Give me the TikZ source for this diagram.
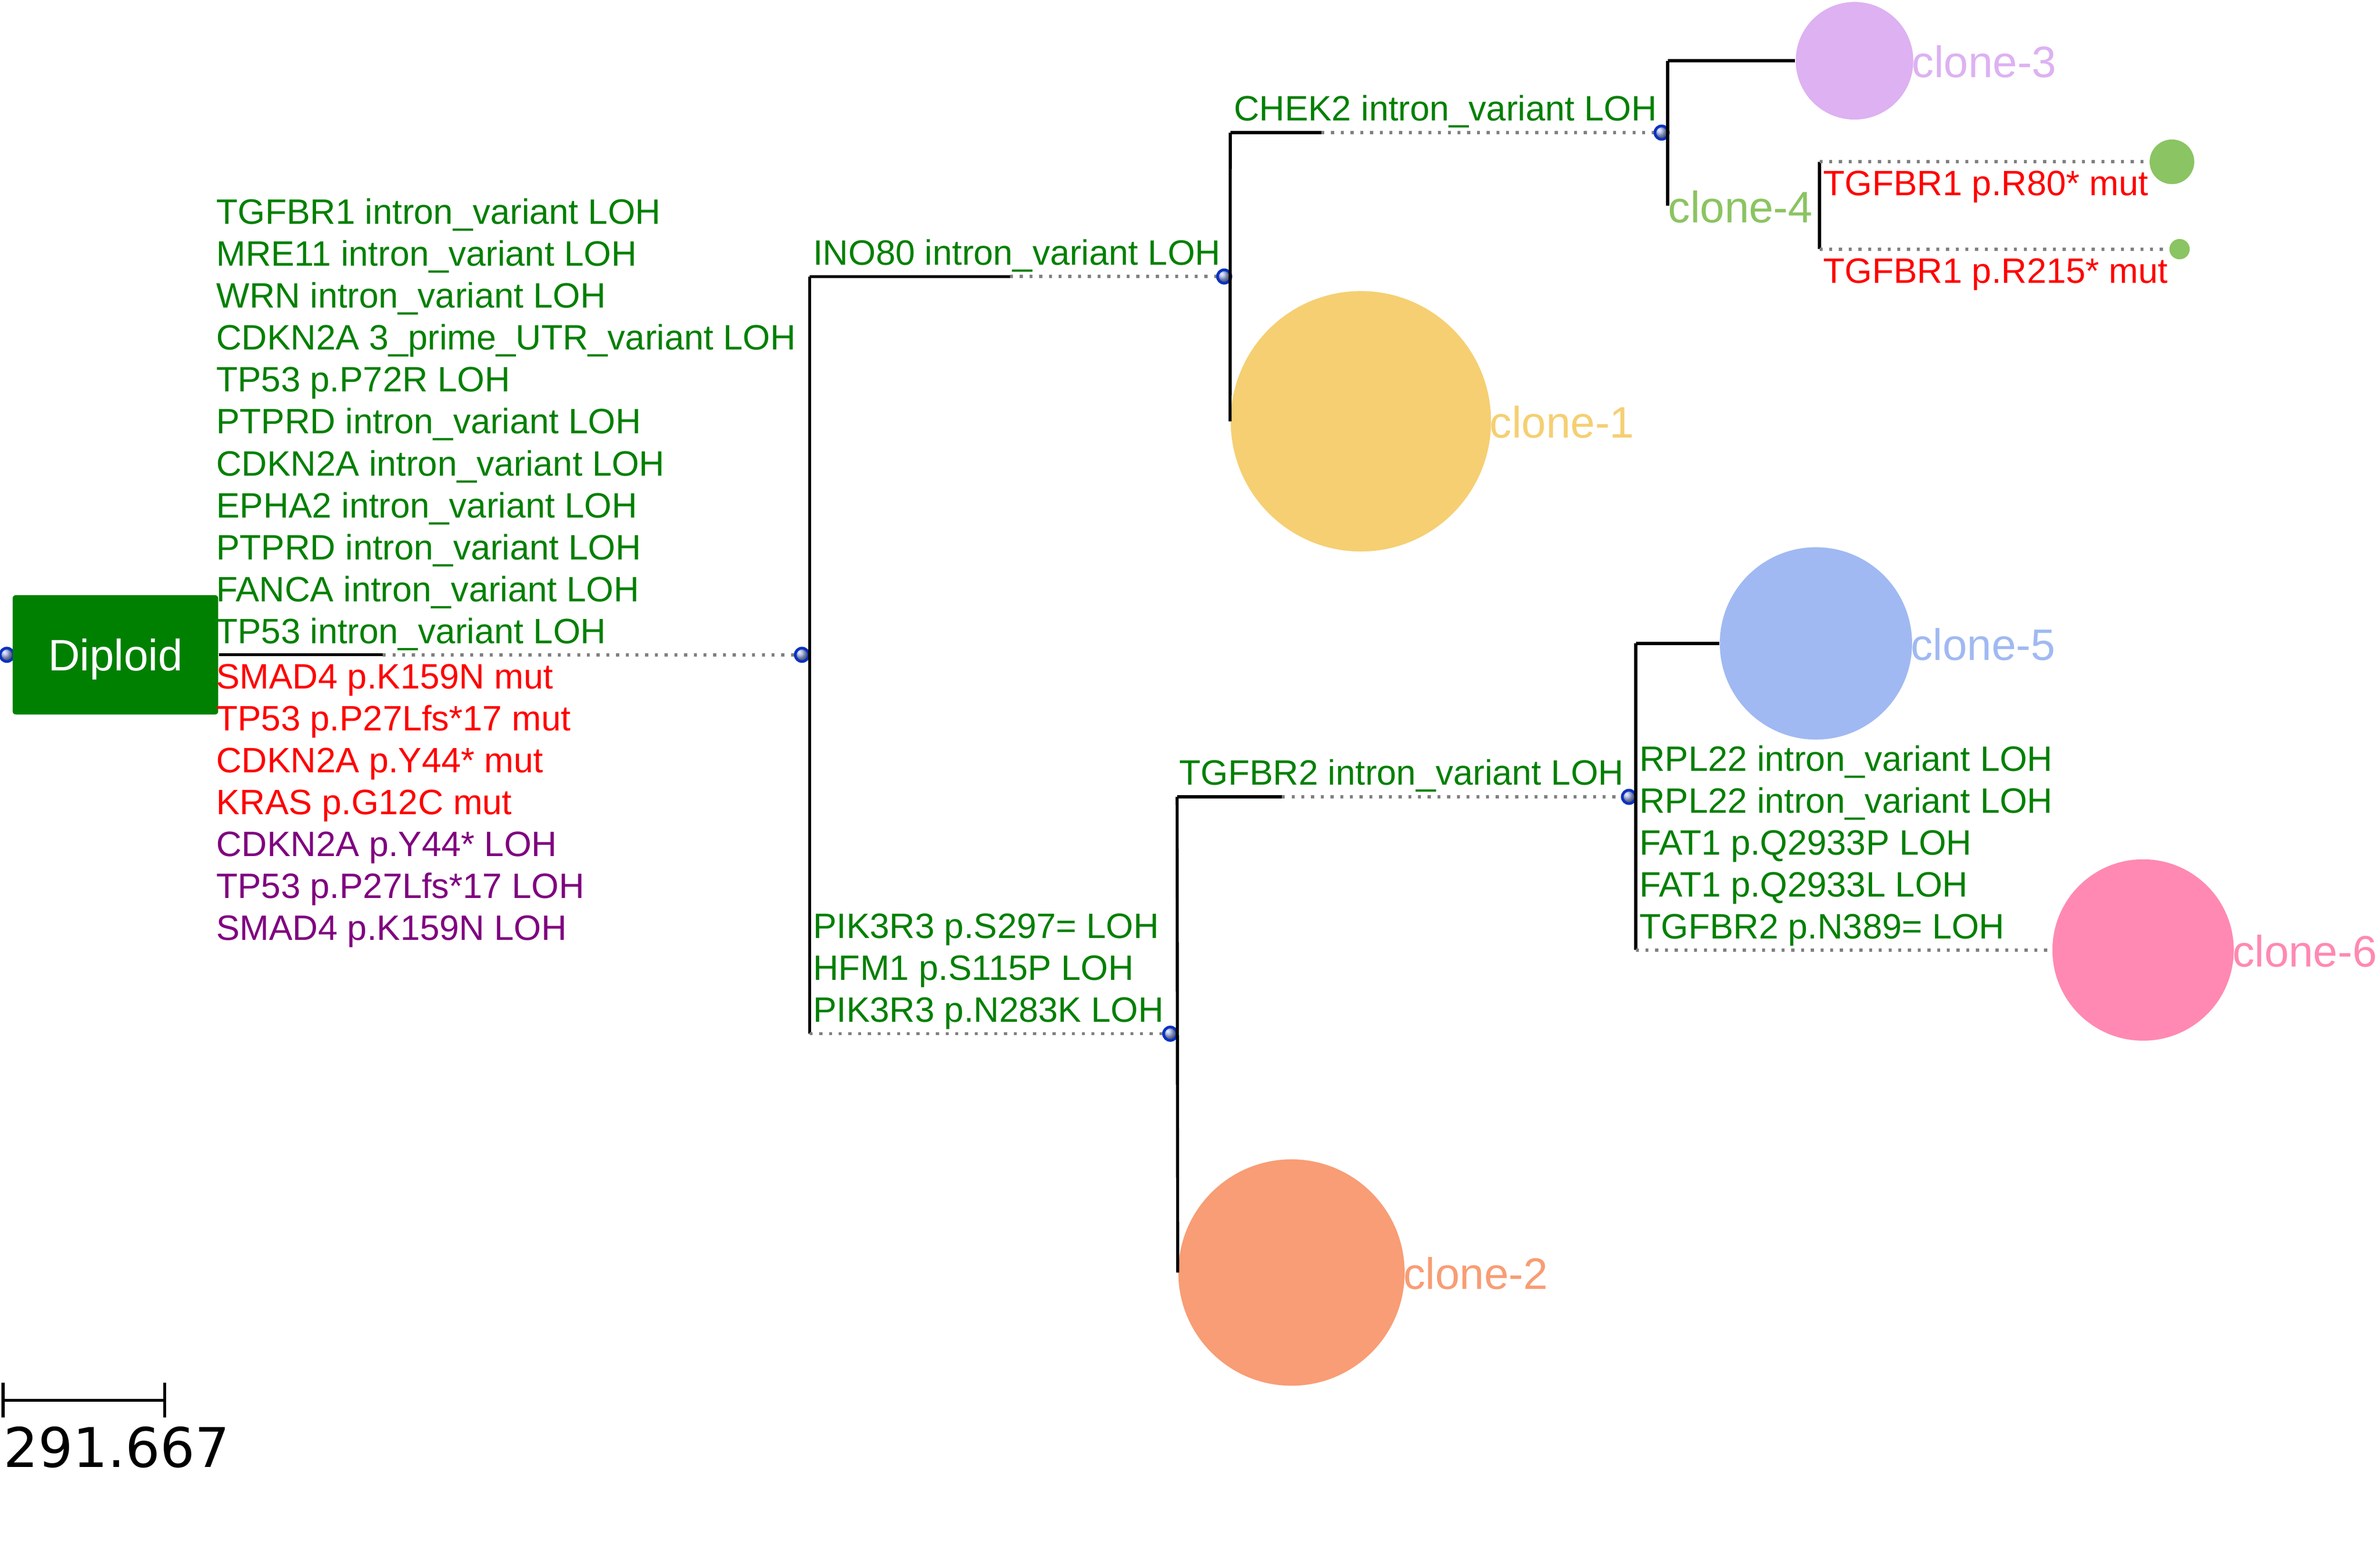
\documentclass[tikz,border=0pt]{standalone}
\usepackage{fontspec}
\setmainfont{Liberation Sans}
\newfontfamily\barfont{DejaVu Sans}
\definecolor{lohgreen}{HTML}{008000}
\definecolor{mutred}{HTML}{FF0000}
\definecolor{lohpurple}{HTML}{800080}
\definecolor{dotgrey}{HTML}{808080}
\definecolor{jointblue}{HTML}{0A32C0}
\definecolor{cloneone}{HTML}{F5CF72}
\definecolor{clonetwo}{HTML}{F89D75}
\definecolor{clonethree}{HTML}{DDB1F2}
\definecolor{clonefour}{HTML}{8BC462}
\definecolor{clonefive}{HTML}{A0B9F2}
\definecolor{clonesix}{HTML}{FF89B2}
\begin{document}
\begin{tikzpicture}[x=0.5pt, y=-0.5pt,
	branch/.style={line width=1pt},
	dotline/.style={line width=1.05pt, draw=dotgrey, dash pattern=on 1pt off 2.2pt},
	joint/.style={circle, inner sep=0pt, minimum size=4.4pt, draw=jointblue, line width=0.9pt, shading=ball, ball color=jointblue!40!white},
	clone/.style={circle, inner sep=0pt, fill=#1},
	clab/.style={inner sep=0pt, anchor=base west, font=\fontsize{14.5}{17}\selectfont},
	lab/.style={inner sep=0pt, anchor=base west, font=\fontsize{11.6}{13.8}\selectfont, text=lohgreen}]
	\useasboundingbox (0,0) rectangle (1567,1017.3);
	% junction dots
	\node[joint] (j0) at (4.5,431) {};
	\node[joint] (j1) at (528,431) {};
	\node[joint] (j2) at (806,182) {};
	\node[joint] (j3) at (1094,87.3) {};
	\node[joint] (j4) at (770.5,680.4) {};
	\node[joint] (j5) at (1072.5,524.5) {};
	\node[fill=lohgreen, text=white, rounded corners=1pt, minimum width=67.65pt, minimum height=39.25pt, text depth=0pt, font=\fontsize{14.5}{17}\selectfont] (diploid) at (76,431) {Diploid};
	% clones
	\node[clone=cloneone, minimum size=171.4pt*0.5] (c1) at (896,277.3) {};
	\node[clone=clonetwo, minimum size=149pt*0.5] (c2) at (850.3,837.6) {};
	\node[clone=clonethree, minimum size=77.4pt*0.5] (c3) at (1221,40) {};
	\node[clone=clonefour, minimum size=29.4pt*0.5] (c4a) at (1430,106.5) {};
	\node[clone=clonefour, minimum size=13.4pt*0.5] (c4b) at (1435,164) {};
	\node[clone=clonefive, minimum size=126.6pt*0.5] (c5) at (1195.6,423.5) {};
	\node[clone=clonesix, minimum size=119.4pt*0.5] (c6) at (1411,625.3) {};
	\coordinate (c4) at (1098,135.5);
	% branch corners
	\coordinate (rs) at (252,431);
	\coordinate (v1t) at (533,182);
	\coordinate (v1b) at (533,680.4);
	\coordinate (s2) at (665,182);
	\coordinate (v2t) at (810,87.3);
	\coordinate (s3) at (870,87.3);
	\coordinate (v3t) at (1098,40);
	\coordinate (v4t) at (1198,106.5);
	\coordinate (v4b) at (1198,164);
	\coordinate (v5t) at (775,524.5);
	\coordinate (s5) at (844,524.5);
	\coordinate (v6t) at (1077,423.5);
	\coordinate (v6b) at (1077,625.3);
	\draw[branch] (diploid.east) -- (rs);
	\draw[dotline] (rs) -- (j1);
	\draw[branch] (v1t) -- (v1b);
	\draw[branch] (v1t) -- (s2);
	\draw[dotline] (s2) -- (j2);
	\draw[branch] (v2t) -- (c1.west);
	\draw[branch] (v2t) -- (s3);
	\draw[dotline] (s3) -- (j3);
	\draw[branch] (v3t) -- (c4);
	\draw[branch] (v3t) -- (c3.west);
	\draw[branch] (v4t) -- (v4b);
	\draw[dotline] (v4t) -- (c4a.west);
	\draw[dotline] (v4b) -- (c4b.west);
	\draw[dotline] (v1b) -- (j4);
	\draw[branch] (v5t) -- (c2.west);
	\draw[branch] (v5t) -- (s5);
	\draw[dotline] (s5) -- (j5);
	\draw[branch] (v6t) -- (v6b);
	\draw[branch] (v6t) -- (c5.west);
	\draw[dotline] (v6b) -- (c6.west);
	% clone names
	\node[clab, text=cloneone] (l1) at ([xshift=-0.8pt, yshift=-5.5pt]c1.east) {clone-1};
	\node[clab, text=clonetwo] (l2) at ([xshift=-0.8pt, yshift=-5.5pt]c2.east) {clone-2};
	\node[clab, text=clonethree] (l3) at ([xshift=-0.8pt, yshift=-5.5pt]c3.east) {clone-3};
	\node[clab, text=clonefour] (l4) at ([xshift=0pt, yshift=-5.5pt]c4) {clone-4};
	\node[clab, text=clonefive] (l5) at ([xshift=-0.8pt, yshift=-5.5pt]c5.east) {clone-5};
	\node[clab, text=clonesix] (l6) at ([xshift=-0.8pt, yshift=-5.5pt]c6.east) {clone-6};
	% events
	\foreach \t [count=\i] in {TGFBR1 intron\_variant LOH, MRE11 intron\_variant LOH, WRN intron\_variant LOH, CDKN2A 3\_prime\_UTR\_variant LOH, TP53 p.P72R LOH, PTPRD intron\_variant LOH, CDKN2A intron\_variant LOH, EPHA2 intron\_variant LOH, PTPRD intron\_variant LOH, FANCA intron\_variant LOH, TP53 intron\_variant LOH}
		\node[lab] (ra\i) at (142,{423.5-27.6*(11-\i)}) {\t};
	\foreach \t/\c [count=\i] in {SMAD4 p.K159N mut/mutred, TP53 p.P27Lfs*17 mut/mutred, CDKN2A p.Y44* mut/mutred, KRAS p.G12C mut/mutred, CDKN2A p.Y44* LOH/lohpurple, TP53 p.P27Lfs*17 LOH/lohpurple, SMAD4 p.K159N LOH/lohpurple}
		\node[lab, text=\c] (rb\i) at (142,{453.2+27.6*(\i-1)}) {\t};
	\node[lab] (e2) at (535,174.5) {INO80 intron\_variant LOH};
	\node[lab] (e3) at (812,79.5) {CHEK2 intron\_variant LOH};
	\node[lab, text=mutred] (e4a) at (1200,128.5) {TGFBR1 p.R80* mut};
	\node[lab, text=mutred] (e4b) at (1200,186.2) {TGFBR1 p.R215* mut};
	\foreach \t [count=\i] in {PIK3R3 p.S297= LOH, HFM1 p.S115P LOH, PIK3R3 p.N283K LOH}
		\node[lab] (pa\i) at (535,{672.7-27.6*(3-\i)}) {\t};
	\node[lab] (e5) at (776,516.5) {TGFBR2 intron\_variant LOH};
	\foreach \t [count=\i] in {RPL22 intron\_variant LOH, RPL22 intron\_variant LOH, FAT1 p.Q2933P LOH, FAT1 p.Q2933L LOH, TGFBR2 p.N389= LOH}
		\node[lab] (fa\i) at (1079,{617.8-27.6*(5-\i)}) {\t};
	% scale bar
	\coordinate (sb1) at (2,921.6);
	\coordinate (sb2) at (108.4,921.6);
	\draw[branch] (sb1) -- (sb2);
	\draw[branch] ([yshift=5.75pt]sb1) -- ([yshift=-5.75pt]sb1);
	\draw[branch] ([yshift=5.75pt]sb2) -- ([yshift=-5.75pt]sb2);
	\node[inner sep=0pt, anchor=base west, font={\barfont\fontsize{18}{21}\selectfont}] (sbl) at (2,965.6) {291.667};
\end{tikzpicture}
\end{document}
